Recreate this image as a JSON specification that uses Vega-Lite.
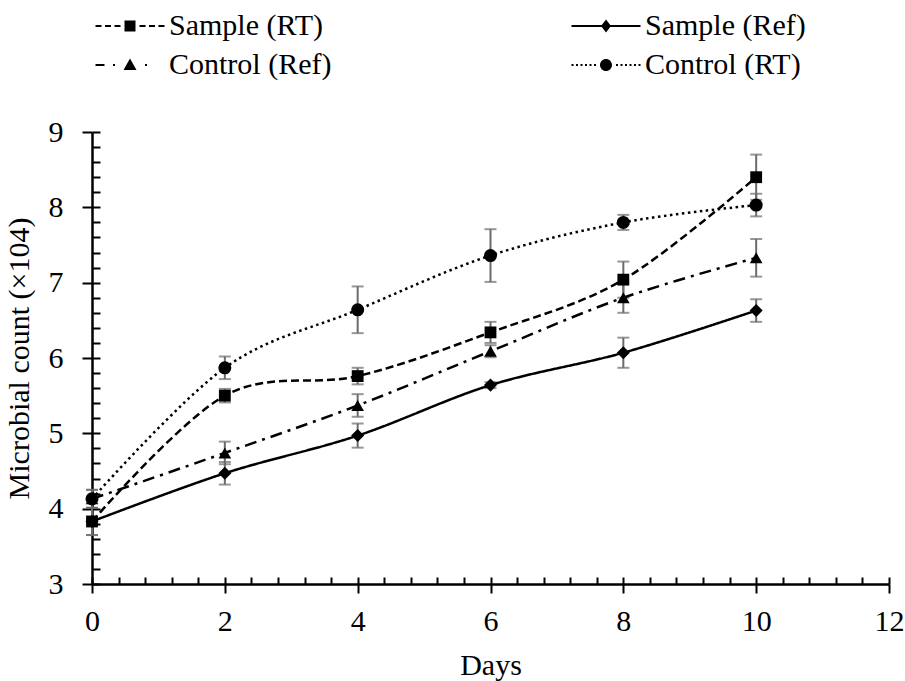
{
  "$schema": "https://vega.github.io/schema/vega-lite/v6.json",
  "autosize": "none",
  "width": 797,
  "height": 452,
  "padding": {"left": 92, "top": 132, "right": 16, "bottom": 97},
  "background": "white",
  "config": {"view": {"stroke": null}, "font": "Liberation Serif"},
  "data": {
    "values": [
      {"series": "Sample (RT)", "day": 0, "mean": 3.83, "err": 0.18},
      {"series": "Sample (RT)", "day": 2, "mean": 5.50, "err": 0.09},
      {"series": "Sample (RT)", "day": 4, "mean": 5.76, "err": 0.11},
      {"series": "Sample (RT)", "day": 6, "mean": 6.34, "err": 0.14},
      {"series": "Sample (RT)", "day": 8, "mean": 7.04, "err": 0.24},
      {"series": "Sample (RT)", "day": 10, "mean": 8.40, "err": 0.30},
      {"series": "Sample (Ref)", "day": 0, "mean": 3.83, "err": 0.18},
      {"series": "Sample (Ref)", "day": 2, "mean": 4.47, "err": 0.15},
      {"series": "Sample (Ref)", "day": 4, "mean": 4.97, "err": 0.16},
      {"series": "Sample (Ref)", "day": 6, "mean": 5.64, "err": 0.04},
      {"series": "Sample (Ref)", "day": 8, "mean": 6.07, "err": 0.20},
      {"series": "Sample (Ref)", "day": 10, "mean": 6.63, "err": 0.15},
      {"series": "Control (Ref)", "day": 0, "mean": 4.13, "err": 0.12},
      {"series": "Control (Ref)", "day": 2, "mean": 4.74, "err": 0.15},
      {"series": "Control (Ref)", "day": 4, "mean": 5.37, "err": 0.15},
      {"series": "Control (Ref)", "day": 6, "mean": 6.09, "err": 0.08},
      {"series": "Control (Ref)", "day": 8, "mean": 6.80, "err": 0.20},
      {"series": "Control (Ref)", "day": 10, "mean": 7.33, "err": 0.25},
      {"series": "Control (RT)", "day": 0, "mean": 4.13, "err": 0.12},
      {"series": "Control (RT)", "day": 2, "mean": 5.87, "err": 0.15},
      {"series": "Control (RT)", "day": 4, "mean": 6.64, "err": 0.31},
      {"series": "Control (RT)", "day": 6, "mean": 7.36, "err": 0.35},
      {"series": "Control (RT)", "day": 8, "mean": 7.80, "err": 0.10},
      {"series": "Control (RT)", "day": 10, "mean": 8.03, "err": 0.15}
    ]
  },
  "resolve": {
    "axis": {"x": "independent", "y": "independent"},
    "scale": {"shape": "independent"}
  },
  "layer": [
    {
      "mark": {
        "type": "errorbar",
        "ticks": {"size": 12, "thickness": 2, "color": "#6b6b6b"},
        "rule": {"strokeWidth": 2, "color": "#6b6b6b"}
      },
      "encoding": {
        "x": {
          "field": "day", "type": "quantitative",
          "scale": {"domain": [0, 12], "nice": false, "zero": false},
          "axis": {
            "orient": "bottom",
            "values": [0, 0.4, 0.8, 1.2, 1.6, 2, 2.4, 2.8, 3.2, 3.6, 4, 4.4, 4.8, 5.2, 5.6, 6, 6.4, 6.8, 7.2, 7.6, 8, 8.4, 8.8, 9.2, 9.6, 10, 10.4, 10.8, 11.2, 11.6, 12],
            "tickSize": -7, "tickWidth": 2, "tickColor": "black",
            "labels": false, "domain": false, "grid": false, "title": null
          }
        },
        "y": {
          "field": "mean", "type": "quantitative",
          "scale": {"domain": [3, 9], "nice": false, "zero": false},
          "axis": {
            "orient": "left",
            "values": [3, 3.2, 3.4, 3.6, 3.8, 4, 4.2, 4.4, 4.6, 4.8, 5, 5.2, 5.4, 5.6, 5.8, 6, 6.2, 6.4, 6.6, 6.8, 7, 7.2, 7.4, 7.6, 7.8, 8, 8.2, 8.4, 8.6, 8.8, 9],
            "tickSize": -8, "tickWidth": 2, "tickColor": "black",
            "labels": false, "domain": false, "grid": false, "title": null
          }
        },
        "yError": {"field": "err"}
      }
    },
    {
      "mark": {"type": "line", "interpolate": "cardinal", "tension": 0, "strokeWidth": 2.5, "color": "black"},
      "encoding": {
        "x": {
          "field": "day", "type": "quantitative",
          "scale": {"domain": [0, 12], "nice": false, "zero": false},
          "axis": {
            "orient": "bottom",
            "values": [0, 2, 4, 6, 8, 10, 12],
            "tickSize": 9, "tickWidth": 2, "tickColor": "black",
            "domain": true, "domainWidth": 2.5, "domainColor": "black",
            "grid": false,
            "labelFont": "Liberation Serif", "labelFontSize": 30, "labelColor": "black", "labelPadding": 13,
            "labelFlush": false,
            "title": "Days", "titleFont": "Liberation Serif", "titleFontSize": 30, "titleFontWeight": "normal", "titleColor": "black", "titlePadding": 14
          }
        },
        "y": {
          "field": "mean", "type": "quantitative",
          "scale": {"domain": [3, 9], "nice": false, "zero": false},
          "axis": {
            "orient": "left",
            "values": [3, 4, 5, 6, 7, 8, 9],
            "tickSize": 10, "tickWidth": 2, "tickColor": "black",
            "domain": true, "domainWidth": 2.5, "domainColor": "black",
            "grid": false,
            "labelFont": "Liberation Serif", "labelFontSize": 30, "labelColor": "black", "labelPadding": 19,
            "labelFlush": false,
            "title": "Microbial count (×104)", "titleFont": "Liberation Serif", "titleFontSize": 30, "titleFontWeight": "normal", "titleColor": "black", "titlePadding": 14
          }
        },
        "detail": {"field": "series"},
        "strokeDash": {
          "field": "series", "type": "nominal",
          "scale": {
            "domain": ["Sample (RT)", "Sample (Ref)", "Control (Ref)", "Control (RT)"],
            "range": [[8, 4], [1, 0], [12, 6, 3, 6], [2.5, 3.5]]
          },
          "legend": null
        }
      }
    },
    {
      "encoding": {
        "x": {"field": "day", "type": "quantitative", "scale": {"domain": [0, 12], "nice": false, "zero": false}, "axis": null},
        "y": {"field": "mean", "type": "quantitative", "scale": {"domain": [3, 9], "nice": false, "zero": false}, "axis": null}
      },
      "layer": [
        {
          "transform": [{"filter": {"field": "series", "equal": "Sample (RT)"}}],
          "mark": {"type": "point", "shape": "square", "filled": true, "opacity": 1, "color": "black", "size": 140}
        },
        {
          "transform": [{"filter": {"field": "series", "equal": "Sample (Ref)"}}],
          "mark": {"type": "point", "shape": "diamond", "filled": true, "opacity": 1, "color": "black", "size": 170}
        },
        {
          "transform": [{"filter": {"field": "series", "equal": "Control (Ref)"}}],
          "mark": {"type": "point", "shape": "triangle-up", "filled": true, "opacity": 1, "color": "black", "size": 160}
        },
        {
          "transform": [{"filter": {"field": "series", "equal": "Control (RT)"}}],
          "mark": {"type": "point", "shape": "circle", "filled": true, "opacity": 1, "color": "black", "size": 170}
        }
      ]
    },
    {
      "mark": {"type": "point", "filled": true, "color": "black", "opacity": 0},
      "encoding": {
        "x": {"field": "day", "type": "quantitative", "scale": {"domain": [0, 12], "nice": false, "zero": false}, "axis": null},
        "y": {"field": "mean", "type": "quantitative", "scale": {"domain": [3, 9], "nice": false, "zero": false}, "axis": null},
        "shape": {
          "field": "series", "type": "nominal",
          "scale": {
            "domain": ["Sample (RT)", "Sample (Ref)", "Control (Ref)", "Control (RT)"],
            "range": [
              "M-6.9,-0.2H-5.7V0.2H-6.9ZM-5,-0.2H-3.8V0.2H-5ZM-3.1,-0.2H-1.9V0.2H-3.1ZM1.9,-0.2H3.1V0.2H1.9ZM3.8,-0.2H5V0.2H3.8ZM5.7,-0.2H6.9V0.2H5.7ZM-1.1,-1.1H1.1V1.1H-1.1Z",
              "M-6.9,-0.22H-0.8V0.22H-6.9ZM0.8,-0.22H6.9V0.22H0.8ZM0,-1.3L1,0L0,1.3L-1,0Z",
              "M-6.9,-0.2H-5.1V0.2H-6.9ZM-3.4,-0.2H-3V0.2H-3.4ZM3,-0.2H3.4V0.2H3ZM0,-1.3L1.3,1L-1.3,1Z",
              "M-6.9,-0.2H-6.5V0.2H-6.9ZM-6,-0.2H-5.6V0.2H-6ZM-5.1,-0.2H-4.7V0.2H-5.1ZM-4.2,-0.2H-3.8V0.2H-4.2ZM-3.3,-0.2H-2.9V0.2H-3.3ZM-2.4,-0.2H-2V0.2H-2.4ZM2,-0.2H2.4V0.2H2ZM2.9,-0.2H3.3V0.2H2.9ZM3.8,-0.2H4.2V0.2H3.8ZM4.7,-0.2H5.1V0.2H4.7ZM5.6,-0.2H6V0.2H5.6ZM6.5,-0.2H6.9V0.2H6.5ZM-1.2,0A1.2,1.2 0 1,0 1.2,0A1.2,1.2 0 1,0 -1.2,0Z"
            ]
          },
          "legend": {
            "title": null,
            "orient": "none",
            "legendX": 23,
            "legendY": -121,
            "columns": 2,
            "direction": "horizontal",
            "columnPadding": 239,
            "rowPadding": 9,
            "padding": 0,
            "symbolSize": 100,
            "symbolStrokeWidth": 0,
            "symbolFillColor": "black",
            "symbolOpacity": 1,
            "labelOffset": 24,
            "labelFont": "Liberation Serif",
            "labelFontSize": 30,
            "labelColor": "black",
            "labelLimit": 400,
            "encode": {
              "symbols": {
                "update": {
                  "fill": {"value": "black"},
                  "opacity": {"value": 1},
                  "fillOpacity": {"value": 1}
                }
              }
            }
          }
        }
      }
    }
  ]
}
